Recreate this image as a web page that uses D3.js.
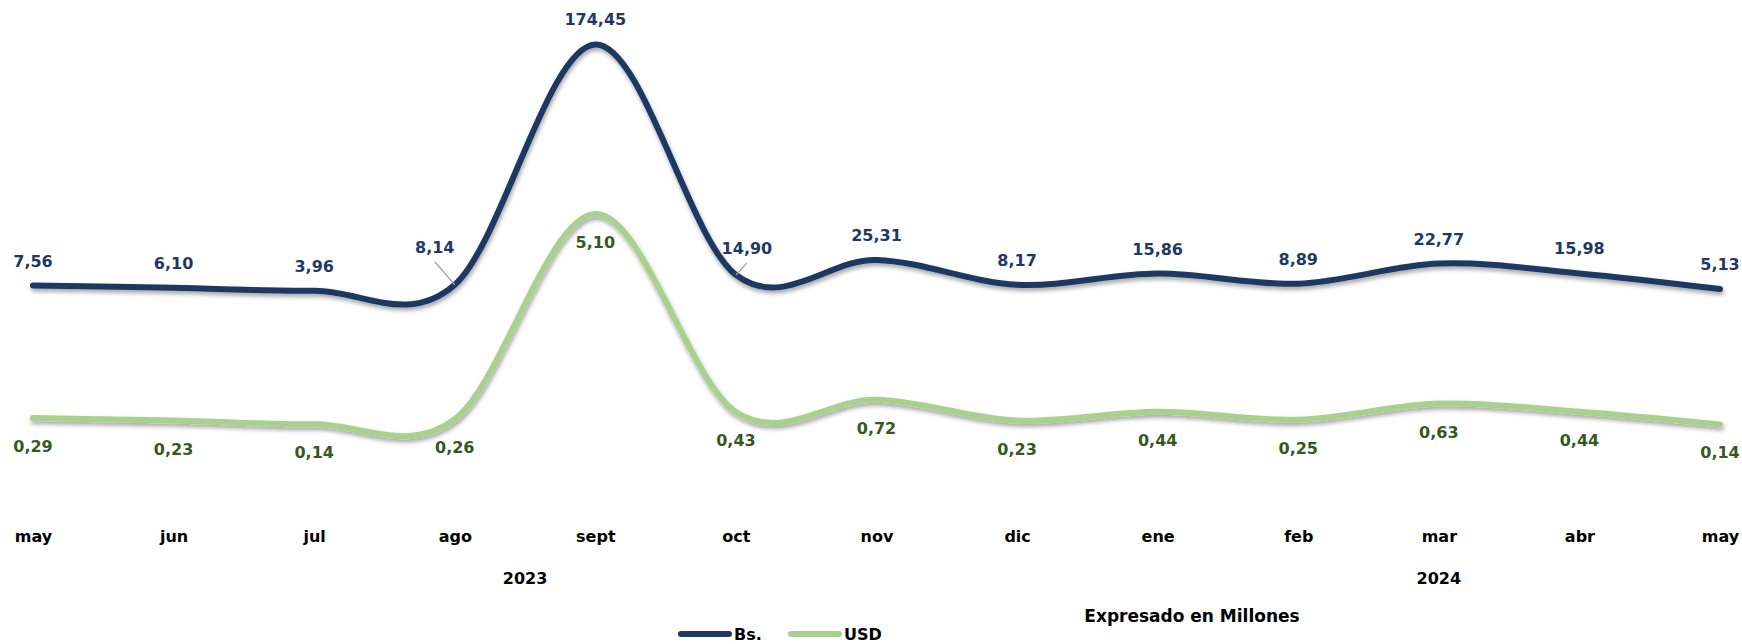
<!DOCTYPE html>
<html>
<head>
<meta charset="utf-8">
<script src="https://cdn.jsdelivr.net/npm/d3@7"></script>
<style>
  html, body { margin: 0; padding: 0; background: #ffffff; }
  svg { display: block; }
  text { font-family: "DejaVu Sans", Verdana, sans-serif; font-weight: bold; }
</style>
</head>
<body>
<svg id="chart" width="1742" height="644"></svg>
<script>
// ---- data ----
const months = ["may","jun","jul","ago","sept","oct","nov","dic","ene","feb","mar","abr","may"];
const years = ["2023", "2024"];
const yearSpans = [8, 5];           // number of months in each year group
const bsValues = [7.56, 6.10, 3.96, 8.14, 174.45, 14.90, 25.31, 8.17, 15.86, 8.89, 22.77, 15.98, 5.13];
const usdValues = [0.29, 0.23, 0.14, 0.26, 5.10, 0.43, 0.72, 0.23, 0.44, 0.25, 0.63, 0.44, 0.14];
const seriesNames = ["Bs.", "USD"];
const noteText = "Expresado en Millones";

// ---- layout / style ----
const W = 1742, H = 644;
const colBs = "#1F3864", colUsd = "#A9D18E", colUsdText = "#385723";
const fmt = d3.formatLocale({decimal: ",", thousands: ".", grouping: [3], currency: ["", ""]}).format(".2f");
// manual label offsets (leader lines) for crowded points: index -> [dx, dy]
const bsLabelShift = {3: [-20, -32], 5: [11, -21]};

const svg = d3.select("#chart");
svg.append("rect").attr("width", W).attr("height", H).attr("fill", "#fff");

const defs = svg.append("defs");
const f = defs.append("filter").attr("id", "shadow").attr("x", "-5%").attr("y", "-20%").attr("width", "110%").attr("height", "150%");
f.append("feDropShadow").attr("dx", 1).attr("dy", 3).attr("stdDeviation", 2)
  .attr("flood-color", "#000").attr("flood-opacity", 0.35);

const idx = d3.range(months.length);
const x = d3.scalePoint().domain(idx).range([33, 1720]);
const yBs = d3.scaleLinear().domain([0, d3.max(bsValues)]).range([296.5, 44.4]);
const yUsd = d3.scaleLinear().domain([0, d3.max(usdValues)]).range([430.3, 214]);

const curve = d3.curveCardinal.tension(0);
const lineBs = d3.line().x((d, i) => x(i)).y(d => yBs(d)).curve(curve);
const lineUsd = d3.line().x((d, i) => x(i)).y(d => yUsd(d)).curve(curve);

svg.append("path").datum(usdValues).attr("d", lineUsd)
  .attr("fill", "none").attr("stroke", colUsd).attr("stroke-width", 6)
  .attr("stroke-linecap", "round").attr("stroke-linejoin", "round")
  .attr("filter", "url(#shadow)");
svg.append("path").datum(bsValues).attr("d", lineBs)
  .attr("fill", "none").attr("stroke", colBs).attr("stroke-width", 6)
  .attr("stroke-linecap", "round").attr("stroke-linejoin", "round")
  .attr("filter", "url(#shadow)");

// leader lines for shifted labels
Object.keys(bsLabelShift).forEach(k => {
  const i = +k, s = bsLabelShift[k];
  const px = x(i), py = yBs(bsValues[i]);
  const lx = px + s[0], ly = py + s[1] + 9;
  svg.append("line").attr("x1", px).attr("y1", py).attr("x2", lx).attr("y2", ly)
    .attr("stroke", "#A6A6A6").attr("stroke-width", 1.3);
});

// Bs labels
svg.append("g").selectAll("text").data(bsValues).join("text")
  .attr("x", (d, i) => x(i) + (bsLabelShift[i] ? bsLabelShift[i][0] : 0))
  .attr("y", (d, i) => yBs(d) + (bsLabelShift[i] ? bsLabelShift[i][1] : -19))
  .attr("text-anchor", "middle").attr("font-size", 16).attr("fill", colBs)
  .text(d => fmt(d));

// USD labels
svg.append("g").selectAll("text").data(usdValues).join("text")
  .attr("x", (d, i) => x(i))
  .attr("y", d => yUsd(d) + 34)
  .attr("text-anchor", "middle").attr("font-size", 16).attr("fill", colUsdText)
  .text(d => fmt(d));

// category axis
const axis = svg.append("g").attr("transform", "translate(0,531)")
  .call(d3.axisBottom(x).tickSize(0).tickPadding(0).tickFormat(i => months[i]));
axis.select(".domain").remove();
axis.selectAll("text").attr("font-size", 16).attr("fill", "#000")
  .attr("font-family", "DejaVu Sans").attr("font-weight", "bold").attr("dy", "0.71em");

// year labels
let start = 0;
years.forEach((yr, k) => {
  const a = start, b = start + yearSpans[k] - 1;
  svg.append("text").attr("x", (x(a) + x(b)) / 2).attr("y", 584)
    .attr("text-anchor", "middle").attr("font-size", 16).attr("fill", "#000").text(yr);
  start += yearSpans[k];
});

// note
svg.append("text").attr("x", 1192).attr("y", 622).attr("text-anchor", "middle")
  .attr("font-size", 17).attr("fill", "#000").text(noteText);

// legend
const legendItems = [{name: seriesNames[0], color: colBs, x0: 678}, {name: seriesNames[1], color: colUsd, x0: 788}];
const lg = svg.append("g");
legendItems.forEach(it => {
  lg.append("line").attr("x1", it.x0 + 3).attr("x2", it.x0 + 51).attr("y1", 634).attr("y2", 634)
    .attr("stroke", it.color).attr("stroke-width", 6).attr("stroke-linecap", "round");
  lg.append("text").attr("x", it.x0 + 56).attr("y", 640).attr("font-size", 16).attr("fill", "#000").text(it.name);
});
</script>
</body>
</html>
